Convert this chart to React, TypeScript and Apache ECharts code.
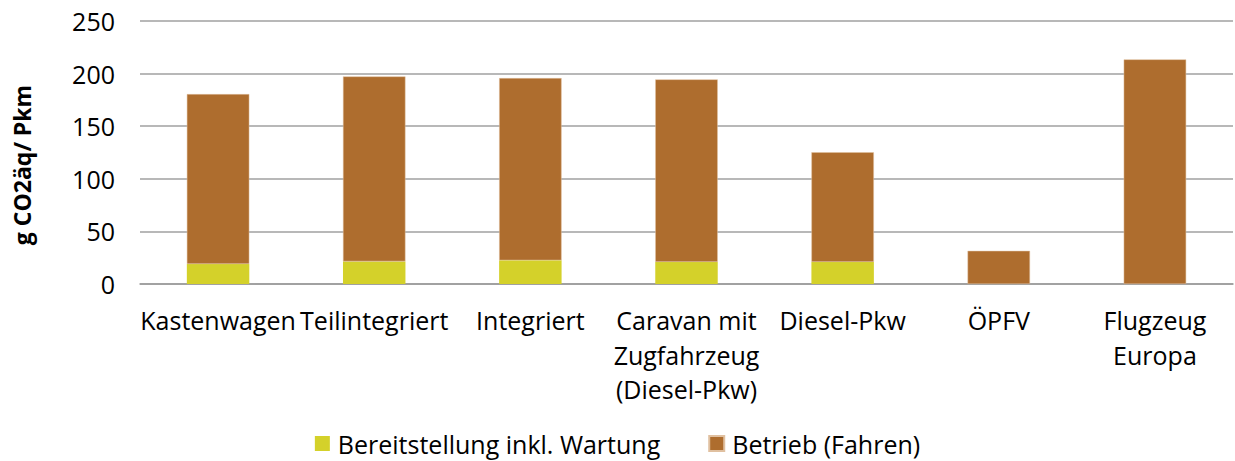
import React, { useEffect, useRef } from "react";
import * as echarts from "echarts";

const categories = [
  "Kastenwagen",
  "Teilintegriert",
  "Integriert",
  "Caravan mit\nZugfahrzeug\n(Diesel-Pkw)",
  "Diesel-Pkw",
  "ÖPFV",
  "Flugzeug\nEuropa",
];
const seriesNames = ["Bereitstellung inkl. Wartung", "Betrieb (Fahren)"];
const bereitstellung = [19, 21.5, 22.5, 21, 21, 0, 0];
const betrieb = [161.5, 175.8, 173.2, 173.5, 104.2, 31.5, 213.5];
const yTicks = [0, 50, 100, 150, 200, 250];

const FONT = "'Open Sans', sans-serif";

export default function App() {
  const ref = useRef<HTMLDivElement>(null);
  useEffect(() => {
    if (!ref.current) return;
    const chart = echarts.init(ref.current, undefined, { renderer: "svg" });
    chart.setOption({
      animation: false,
      textStyle: { fontFamily: FONT },
      grid: { left: 140, right: 2, top: 21, bottom: 177, containLabel: false },
      legend: {
        top: 431,
        left: "center",
        padding: 0,
        itemWidth: 15,
        itemHeight: 15,
        itemGap: 48,
        icon: "rect",
        textStyle: { fontFamily: FONT, fontSize: 25, color: "#000", padding: [0, 0, 0, 3] },
        data: seriesNames,
      },
      xAxis: {
        type: "category",
        data: categories,
        axisLine: { lineStyle: { color: "#9a9a9a", width: 1.5 } },
        axisTick: { length: 8, lineStyle: { color: "#9a9a9a", width: 1.5 } },
        axisLabel: {
          fontFamily: FONT,
          fontSize: 25,
          color: "#000",
          margin: 19,
          lineHeight: 34.5,
          interval: 0,
        },
      },
      yAxis: {
        type: "value",
        min: yTicks[0],
        max: yTicks[yTicks.length - 1],
        interval: 50,
        axisLine: { show: false },
        axisTick: { show: false },
        splitLine: { lineStyle: { color: "#a0a0a0", width: 1.5 } },
        axisLabel: { fontFamily: FONT, fontSize: 25, color: "#000", margin: 25 },
      },
      graphic: [
        {
          type: "text",
          x: 22,
          y: 165,
          rotation: Math.PI / 2,
          style: {
            text: "g CO2äq/ Pkm",
            font: `bold 23px ${FONT}`,
            fill: "#000",
            align: "center",
            verticalAlign: "middle",
          },
        },
      ],
      series: [
        {
          name: seriesNames[0],
          type: "bar",
          stack: "total",
          data: bereitstellung,
          barWidth: "40%",
          itemStyle: { color: "#d4d12a" },
        },
        {
          name: seriesNames[1],
          type: "bar",
          stack: "total",
          data: betrieb,
          barWidth: "40%",
          itemStyle: { color: "#ae6d2e", borderColor: "#e0c0a0", borderWidth: 0.5 },
        },
      ],
    });
    return () => chart.dispose();
  }, []);
  return (
    <div
      ref={ref}
      style={{ position: "fixed", left: 0, top: 0, width: 1235, height: 461, background: "#fff" }}
    />
  );
}
